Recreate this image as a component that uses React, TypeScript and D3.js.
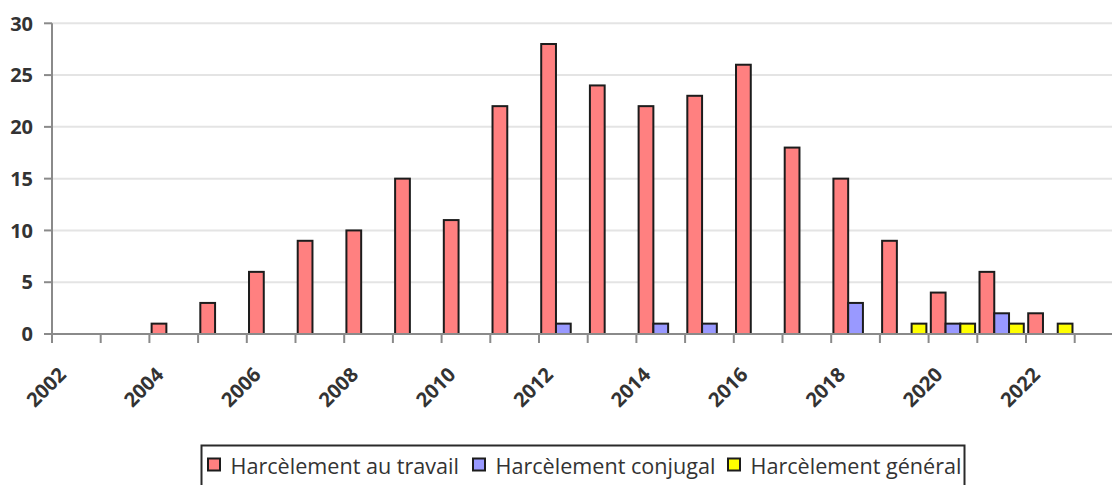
import * as d3 from "d3";
import React from "react";

// values
const years = [
  "2002", "2003", "2004", "2005", "2006", "2007", "2008", "2009", "2010", "2011", "2012",
  "2013", "2014", "2015", "2016", "2017", "2018", "2019", "2020", "2021", "2022", "2023",
];
const travail = [0, 0, 1, 3, 6, 9, 10, 15, 11, 22, 28, 24, 22, 23, 26, 18, 15, 9, 4, 6, 2, 0];
const conjugal = [0, 0, 0, 0, 0, 0, 0, 0, 0, 0, 1, 0, 1, 1, 0, 0, 3, 0, 1, 2, 0, 0];
const general = [0, 0, 0, 0, 0, 0, 0, 0, 0, 0, 0, 0, 0, 0, 0, 0, 0, 1, 1, 1, 1, 0];
const seriesNames = ["Harcèlement au travail", "Harcèlement conjugal", "Harcèlement général"];
const seriesColors = ["#ff8080", "#9999ff", "#ffff00"];
const yTicks = [0, 5, 10, 15, 20, 25, 30];

const W = 1112;
const H = 485;
const left = 52;
const bandW = 48.7;

const App = () => {
  const series = [travail, conjugal, general];

  const x = d3
    .scaleBand<string>()
    .domain(years)
    .range([left, left + bandW * years.length])
    .paddingInner(0)
    .paddingOuter(0);

  const inner = d3
    .scaleBand<number>()
    .domain([0, 1, 2])
    .range([0, x.bandwidth()])
    .paddingOuter(0.15)
    .paddingInner(0);

  const y = d3.scaleLinear().domain([0, 30]).range([334, 23.3]);

  const font = "'Open Sans', 'DejaVu Sans', sans-serif";
  const axisColor = "#8a8a8a";

  // legend layout
  const legendX = [208, 473, 728];
  const legendTextOffset = 22.5;

  return (
    <div style={{ position: "absolute", left: 0, top: 0 }}>
      <svg width={W} height={H} style={{ display: "block", background: "#fff" }}>
        {/* gridlines */}
        {yTicks.slice(1).map((t) => (
          <line key={"g" + t} x1={left} x2={W} y1={y(t)} y2={y(t)} stroke="#e4e4e4" strokeWidth={2} />
        ))}

        {/* bars */}
        {series.map((vals, si) =>
          vals.map((v, i) =>
            v > 0 ? (
              <rect
                key={si + "-" + i}
                x={(x(years[i]) || 0) + (inner(si) || 0)}
                y={y(v)}
                width={inner.bandwidth()}
                height={y(0) - y(v)}
                fill={seriesColors[si]}
                stroke="#1c1c1c"
                strokeWidth={2}
              />
            ) : null
          )
        )}

        {/* y axis */}
        <line x1={left} x2={left} y1={y(30)} y2={y(0)} stroke={axisColor} strokeWidth={2} />
        {yTicks.map((t) => (
          <g key={"y" + t}>
            <line x1={left - 8} x2={left} y1={y(t)} y2={y(t)} stroke={axisColor} strokeWidth={2} />
            <text
              x={33}
              y={y(t)}
              dy="0.36em"
              textAnchor="end"
              fontFamily={font}
              fontWeight={700}
              fontSize={20}
              fill="#333"
            >
              {t}
            </text>
          </g>
        ))}

        {/* x axis */}
        <line x1={left - 8} x2={W} y1={y(0)} y2={y(0)} stroke={axisColor} strokeWidth={2} />
        {d3.range(years.length + 1).map((i) => {
          const tx = left + i * bandW;
          return (
            <line key={"xt" + i} x1={tx} x2={tx} y1={y(0)} y2={y(0) + 9} stroke={axisColor} strokeWidth={2} />
          );
        })}
        {years.map((yr, i) =>
          i % 2 === 0 ? (
            <text
              key={"xl" + yr}
              transform={`translate(${(x(yr) || 0) + x.bandwidth() / 2 - 9},${376}) rotate(-45)`}
              textAnchor="end"
              fontFamily={font}
              fontWeight={700}
              fontSize={20}
              fill="#333"
            >
              {yr}
            </text>
          ) : null
        )}

        {/* legend */}
        <rect x={201.5} y={445.5} width={763} height={60} fill="#fff" stroke="#2a2a2a" strokeWidth={2} />
        {seriesNames.map((name, si) => (
          <g key={"lg" + si}>
            <rect
              x={legendX[si]}
              y={458.5}
              width={12}
              height={12}
              fill={seriesColors[si]}
              stroke="#1c1c1c"
              strokeWidth={2}
            />
            <text x={legendX[si] + legendTextOffset} y={474} fontFamily={font} fontSize={21.6} fill="#333">
              {name}
            </text>
          </g>
        ))}
      </svg>
    </div>
  );
};

export default App;
